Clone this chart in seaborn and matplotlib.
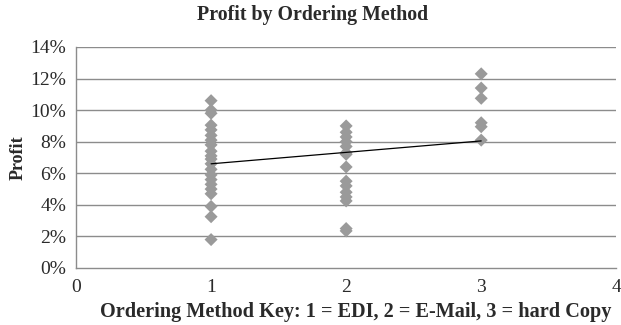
import numpy as np
import pandas as pd
import matplotlib
matplotlib.use("Agg")
import matplotlib.pyplot as plt
import seaborn as sns
from matplotlib.ticker import PercentFormatter

# Profit (%) observed for each ordering method key
edi_profit = [10.6, 10.0, 9.8, 9.05, 8.75, 8.4, 8.1, 7.8, 7.4, 7.1, 6.9, 6.6,
              6.25, 5.9, 5.6, 5.3, 5.0, 4.7, 3.9, 3.25, 1.8]
email_profit = [9.0, 8.6, 8.3, 8.0, 7.7, 7.3, 7.2, 6.4, 5.5, 5.2, 4.8, 4.5,
                4.25, 2.5, 2.35]
hardcopy_profit = [12.3, 11.4, 10.75, 9.2, 8.95, 8.1]
method_keys = [1, 2, 3]

# Linear trend line (profit %) at the first and last method keys
trend_keys = [1, 3]
trend_profit = [6.6, 8.05]

df = pd.DataFrame({
    "method": [1] * len(edi_profit) + [2] * len(email_profit) + [3] * len(hardcopy_profit),
    "profit": edi_profit + email_profit + hardcopy_profit,
})
trend = pd.DataFrame({"method": trend_keys, "profit": trend_profit})

sns.set_theme(style="white")
plt.rcParams["font.family"] = ["Liberation Serif", "DejaVu Serif"]

fig = plt.figure(figsize=(6.21, 3.25), dpi=100)
ax = fig.add_axes([0.1224, 0.1754, 0.870, 0.68])

grid_color = "#8c8c8c"
text_color = "#2a2a2a"
for v in range(2, 15, 2):
    ax.axhline(v, color=grid_color, lw=1.0, zorder=0)

sns.scatterplot(data=df, x="method", y="profit", marker="D", s=44,
                color="#9a9a9a", edgecolor="none", ax=ax, zorder=2)
sns.lineplot(data=trend, x="method", y="profit", color="black", lw=0.9,
             ax=ax, zorder=3)

ax.set_xlim(0, 4)
ax.set_ylim(0, 14)
ax.set_xticks(range(0, 5))
ax.set_yticks(range(0, 15, 2))
ax.yaxis.set_major_formatter(PercentFormatter(decimals=0))
ax.tick_params(axis="both", length=0, labelsize=14, colors=text_color)
ax.tick_params(axis="x", pad=8)
ax.tick_params(axis="y", pad=7)

for side in ["top", "right"]:
    ax.spines[side].set_visible(False)
for side in ["left", "bottom"]:
    ax.spines[side].set_color(grid_color)
    ax.spines[side].set_linewidth(1.0)

ax.set_xlabel("Ordering Method Key: 1 = EDI, 2 = E-Mail, 3 = hard Copy",
              fontsize=14.6, fontweight="bold", color=text_color)
ax.xaxis.set_label_coords(0.517, -0.155)
ax.xaxis.label.set_va("top")
ax.set_ylabel("Profit", fontsize=13, fontweight="bold", color=text_color, labelpad=3)
fig.suptitle("Profit by Ordering Method", x=0.503, y=0.985, fontsize=14.3,
             fontweight="bold", color=text_color)

fig.savefig("out.png", dpi=100)
